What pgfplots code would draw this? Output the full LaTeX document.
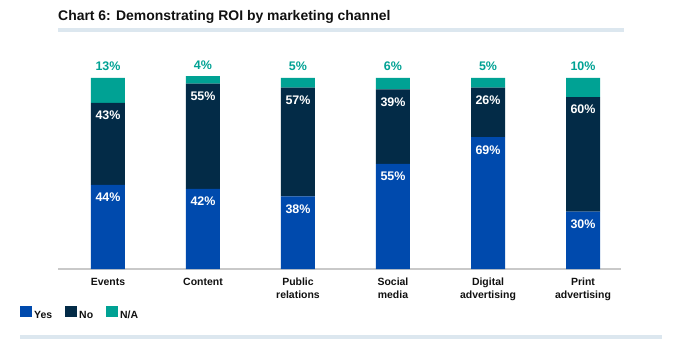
\documentclass[border=0pt]{standalone}
\usepackage{pgfplots}
\usepackage{pgfplotstable}
\pgfplotsset{compat=1.18}
\usepackage{fontspec}
\setmainfont{Liberation Sans}
\definecolor{cYes}{HTML}{004AAD}
\definecolor{cNo}{HTML}{032B47}
\definecolor{cNA}{HTML}{00A294}
\definecolor{cLine}{HTML}{DCE7EF}
\definecolor{cAxis}{HTML}{C9C9C9}
\definecolor{cText}{HTML}{111111}
\pgfplotstableread{
x yes no na
0 44 43 13
1 42 55 4
2 38 57 5
3 55 39 6
4 69 26 5
5 30 60 10
}\roidata
\begin{document}
\begin{tikzpicture}[x=1bp,y=1bp]
\path[fill=white,use as bounding box] (0,0) rectangle (686,356);
\node[anchor=base west,inner sep=0pt,text=cText,font=\fontsize{14}{16}\selectfont\bfseries] at (58,336) {Chart 6: Demonstrating ROI by marketing channel};
\fill[cLine] (58,324.3) rectangle (624,327.7);
\fill[cLine] (20,17.3) rectangle (662,20.7);
\begin{axis}[
  at={(58bp,87bp)}, anchor=south west,
  scale only axis, width=563bp, height=191bp,
  xmin=-0.526, xmax=5.4, ymin=0, ymax=100,
  ybar stacked, bar width=34bp,
  clip=false,
  axis x line*=bottom, axis y line=none,
  x axis line style={draw=cAxis, line width=1.2pt, -},
  xtick=data, major tick length=0pt,
  xticklabels={Events,Content,Public\\relations,Social\\media,Digital\\advertising,Print\\advertising},
  xticklabel style={anchor=north, inner sep=0pt, yshift=-9bp, align=center, text=cText,
    font=\fontsize{10.5}{12.5}\selectfont\bfseries},
  point meta=explicit symbolic,
  legend columns=3,
  legend style={at={(axis description cs:-0.0675,-0.195)}, anchor=north west, draw=none, fill=none,
    inner sep=0pt, font=\fontsize{10.5}{12}\selectfont\bfseries, text=cText,
    /tikz/every even column/.append style={column sep=11bp}},
  legend image code/.code={\fill[#1] (0bp,-2bp) rectangle (12bp,9bp);},
]
\addplot[fill=cYes, draw=none,
  nodes near coords={\pgfplotspointmeta\%},
  every node near coord/.style={anchor=north, inner sep=0pt, yshift={\pgfplotspointmeta*0.955bp-8bp}, text=white, font=\fontsize{12.5}{14}\selectfont\bfseries}]
  table[x=x,y=yes,meta=yes] {\roidata};
\addplot[fill=cNo, draw=none,
  nodes near coords={\pgfplotspointmeta\%},
  every node near coord/.style={anchor=north, inner sep=0pt, yshift={\pgfplotspointmeta*0.955bp-8bp}, text=white, font=\fontsize{12.5}{14}\selectfont\bfseries}]
  table[x=x,y=no,meta=no] {\roidata};
\addplot[fill=cNA, draw=none,
  nodes near coords={\pgfplotspointmeta\%},
  every node near coord/.style={anchor=base, inner sep=0pt, yshift={\pgfplotspointmeta*0.955bp+7bp}, text=cNA, font=\fontsize{12.5}{14}\selectfont\bfseries}]
  table[x=x,y=na,meta=na] {\roidata};
\legend{Yes,No,N/A}
\end{axis}
\end{tikzpicture}
\end{document}
